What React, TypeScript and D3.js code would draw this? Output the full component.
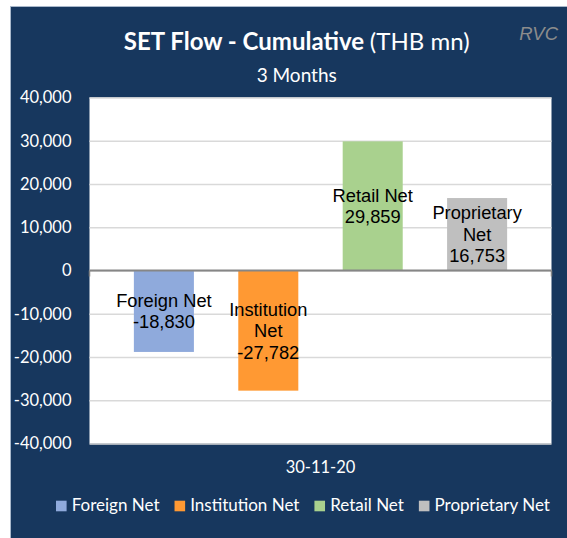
import * as d3 from 'd3';
import React, { useEffect, useRef } from 'react';

// data
const category = '30-11-20';
const seriesNames = ['Foreign Net', 'Institution Net', 'Retail Net', 'Proprietary Net'];
const seriesValues = [-18830, -27782, 29859, 16753];
const yTicks = [-40000, -30000, -20000, -10000, 0, 10000, 20000, 30000, 40000];

// styles
const seriesColors = ['#8FAADC', '#FF9933', '#A9D18E', '#BFBFBF'];
const navy = '#17375E';
const axisFont = 'Lato, "Open Sans", sans-serif';
const labelFont = '"Liberation Sans", Arial, sans-serif';

const width = 567;
const height = 538;
const margin = { top: 97.5, right: 15.5, bottom: 94.5, left: 89.5 };

const fmt = d3.formatLocale({ decimal: '.', thousands: ',', grouping: [3], currency: ['', ''], minus: '-' }).format(',');

export default function App() {
  const ref = useRef<SVGSVGElement>(null);

  useEffect(() => {
    drawChart();
  }, []);

  function drawChart() {
    const svg = d3.select(ref.current);
    svg.selectAll('*').remove();

    const plotW = width - margin.left - margin.right;
    const x0 = margin.left;
    const x1 = width - margin.right;
    const yTop = margin.top;
    const yBot = height - margin.bottom;

    // background panel
    svg.append('rect')
      .attr('x', 10.5).attr('y', 6.5)
      .attr('width', 600).attr('height', 560)
      .attr('fill', navy)
      .attr('stroke', '#A9B8CB').attr('stroke-width', 1);

    // plot area
    svg.append('rect')
      .attr('x', x0).attr('y', yTop)
      .attr('width', plotW).attr('height', yBot - yTop)
      .attr('fill', '#fff');

    const y = d3.scaleLinear().domain([-40000, 40000]).range([yBot, yTop]);
    const xCat = d3.scaleBand().domain([category]).range([x0, x1]);
    const xSeries = d3.scaleBand().domain(seriesNames).range([0, xCat.bandwidth()]).padding(0.425);

    // gridlines
    svg.append('g')
      .attr('transform', `translate(${x0},0)`)
      .call(d3.axisLeft(y).tickValues(yTicks).tickSize(-plotW).tickFormat(() => ''))
      .call(g => g.select('.domain').remove())
      .call(g => g.selectAll('line').attr('stroke', '#D9D9D9').attr('stroke-width', 1.5));

    // y tick labels
    svg.append('g')
      .attr('transform', `translate(${x0},0)`)
      .call(d3.axisLeft(y).tickValues(yTicks).tickSize(0).tickPadding(18).tickFormat(d => fmt(d as number)))
      .call(g => g.select('.domain').remove())
      .call(g => g.selectAll('text')
        .attr('fill', '#fff')
        .attr('font-family', axisFont)
        .attr('font-size', 16.5));

    // bars
    const bars = svg.append('g');
    seriesNames.forEach((name, i) => {
      const v = seriesValues[i];
      const bx = xCat(category)! + xSeries(name)!;
      const top = y(Math.max(0, v));
      const bot = y(Math.min(0, v));
      bars.append('rect')
        .attr('x', bx).attr('y', top)
        .attr('width', xSeries.bandwidth()).attr('height', bot - top)
        .attr('fill', seriesColors[i]);
    });

    // zero line + end ticks
    svg.append('line')
      .attr('x1', x0).attr('x2', x1)
      .attr('y1', y(0)).attr('y2', y(0))
      .attr('stroke', '#868686').attr('stroke-width', 2);
    [x0, x1].forEach(tx => {
      svg.append('line')
        .attr('x1', tx).attr('x2', tx)
        .attr('y1', y(0)).attr('y2', y(0) + 6)
        .attr('stroke', '#868686').attr('stroke-width', 1.5);
    });

    // bar labels
    const lh = 21.5;
    seriesNames.forEach((name, i) => {
      const v = seriesValues[i];
      const cx = xCat(category)! + xSeries(name)! + xSeries.bandwidth() / 2;
      const cy = (y(0) + y(v)) / 2;
      const lines = (name.length > 12 ? name.split(' ') : [name]).concat(fmt(v));
      const t = svg.append('text')
        .attr('text-anchor', 'middle')
        .attr('font-family', labelFont)
        .attr('font-size', 18.3)
        .attr('fill', '#000');
      lines.forEach((ln, k) => {
        t.append('tspan')
          .attr('x', cx)
          .attr('y', cy + (k - (lines.length - 1) / 2) * lh + 6.5)
          .text(ln);
      });
    });

    // category label
    svg.append('g')
      .attr('transform', `translate(0,${yBot})`)
      .call(d3.axisBottom(xCat).tickSize(0).tickPadding(18))
      .call(g => g.select('.domain').remove())
      .call(g => g.selectAll('text')
        .attr('fill', '#fff')
        .attr('font-family', axisFont)
        .attr('font-size', 16.5));

    // title
    const title = svg.append('text')
      .attr('x', 296.7).attr('y', 50)
      .attr('text-anchor', 'middle')
      .attr('font-family', axisFont)
      .attr('font-size', 24)
      .attr('fill', '#fff');
    title.append('tspan').attr('font-weight', 'bold').text('SET Flow - Cumulative ');
    title.append('tspan').text('(THB mn)');

    svg.append('text')
      .attr('x', 296.7).attr('y', 81.7)
      .attr('text-anchor', 'middle')
      .attr('font-family', axisFont)
      .attr('font-size', 19)
      .attr('fill', '#fff')
      .text('3 Months');

    svg.append('text')
      .attr('x', 558).attr('y', 40)
      .attr('text-anchor', 'end')
      .attr('font-family', labelFont)
      .attr('font-style', 'italic')
      .attr('font-size', 18.5)
      .attr('fill', '#8C8C8C')
      .text('RVC');

    // legend
    const legend = svg.append('g');
    let lx = 56;
    seriesNames.forEach((name, i) => {
      legend.append('rect')
        .attr('x', lx).attr('y', 500.7)
        .attr('width', 10.6).attr('height', 10.6)
        .attr('fill', seriesColors[i]);
      const t = legend.append('text')
        .attr('x', lx + 15.7).attr('y', 511)
        .attr('font-family', axisFont)
        .attr('font-size', 17)
        .attr('fill', '#fff')
        .text(name);
      const w = (t.node() as SVGTextElement).getComputedTextLength();
      lx += 15.7 + w + 15;
    });
  }

  return (
    <svg ref={ref} width={width} height={height}
      style={{ position: 'absolute', left: 0, top: 0, background: '#fff', display: 'block' }} />
  );
}
